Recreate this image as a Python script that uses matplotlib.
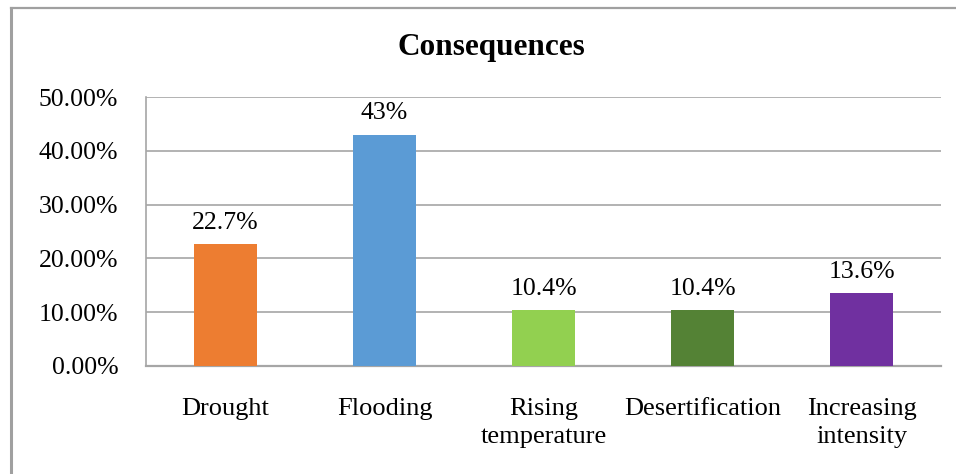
import matplotlib.pyplot as plt
from matplotlib.lines import Line2D

plt.rcParams['font.family'] = ['Liberation Serif', 'DejaVu Serif']

categories = ['Drought', 'Flooding', 'Rising\ntemperature', 'Desertification',
              'Increasing\nintensity']
values = [22.7, 43, 10.4, 10.4, 13.6]
value_labels = ['22.7%', '43%', '10.4%', '10.4%', '13.6%']
colors = ['#ED7D31', '#5B9BD5', '#92D050', '#548235', '#7030A0']
yticks = [0, 10, 20, 30, 40, 50]

W, H = 956, 474
fig = plt.figure(figsize=(W / 100, H / 100), dpi=100)
ax = fig.add_axes([146 / W, 1 - 366 / H, (941 - 146) / W, (366 - 97) / H])

x = range(len(categories))
ax.bar(x, values, width=0.40, color=colors, zorder=3)
for i, v in enumerate(values):
    ax.text(i, v + 1.9, value_labels[i], ha='center', va='bottom', fontsize=18.5)

ax.set_xlim(-0.5, len(categories) - 0.5)
ax.set_ylim(0, 50)
ax.set_yticks(yticks)
ax.set_yticklabels(['%.2f%%' % t for t in yticks], fontsize=18.5)
ax.set_xticks(list(x))
ax.set_xticklabels(categories, fontsize=19, linespacing=1.37)
ax.tick_params(axis='both', length=0)
ax.tick_params(axis='x', pad=23)
ax.tick_params(axis='y', pad=20)

ax.grid(axis='y', color='#A6A6A6', linewidth=1.2, zorder=0)
for s in ['top', 'right']:
    ax.spines[s].set_visible(False)
ax.spines['left'].set_color('#A6A6A6')
ax.spines['left'].set_linewidth(1.2)
ax.spines['bottom'].set_color('#A6A6A6')
ax.spines['bottom'].set_linewidth(1.6)

fig.text(491 / W, 1 - 47 / H, 'Consequences', ha='center', va='center',
         fontsize=22.5, fontweight='bold')

# outer chart border (left and top only visible)
fig.add_artist(Line2D([11 / W, 11 / W], [0, 1 - 7.5 / H], color='#A0A0A0',
                      linewidth=2.2, transform=fig.transFigure))
fig.add_artist(Line2D([11 / W, 1], [1 - 7.5 / H, 1 - 7.5 / H], color='#A0A0A0',
                      linewidth=1.6, transform=fig.transFigure))

fig.savefig('out.png', dpi=100)
